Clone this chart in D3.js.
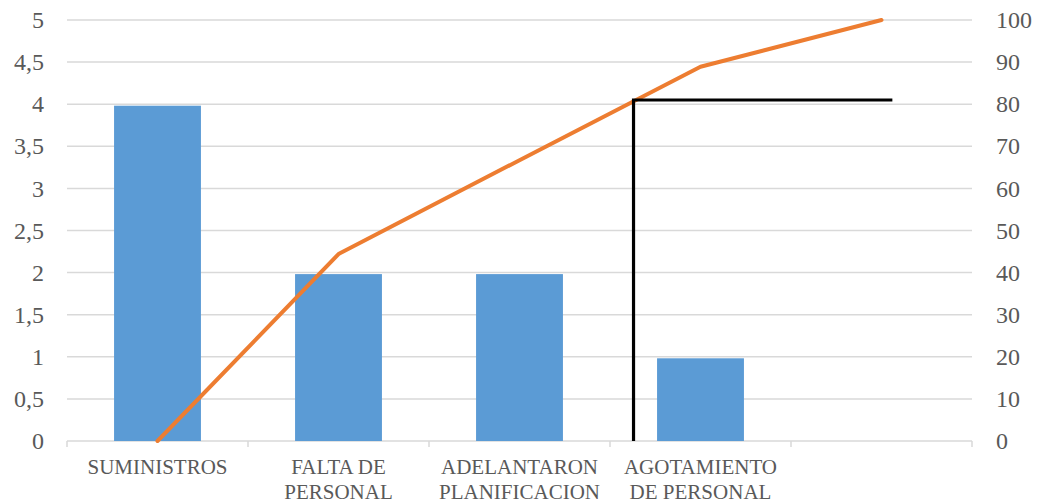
<!DOCTYPE html>
<html>
<head>
<meta charset="utf-8">
<script src="https://cdn.jsdelivr.net/npm/d3@7"></script>
<style>
  html, body { margin: 0; padding: 0; background: #fff; }
  svg { display: block; }
</style>
</head>
<body>
<svg id="chart" width="1039" height="503"></svg>
<script>
// Causes (last slot is left blank), frequencies, cumulative percentages
const categories = ["SUMINISTROS", "FALTA DE|PERSONAL", "ADELANTARON|PLANIFICACION", "AGOTAMIENTO|DE PERSONAL", ""];
const frequency = [4, 2, 2, 1, null];
const cumulativePct = [0, 44.4, 66.7, 88.9, 100];
const leftTicks = [0, 0.5, 1, 1.5, 2, 2.5, 3, 3.5, 4, 4.5, 5];
const rightTicks = [0, 10, 20, 30, 40, 50, 60, 70, 80, 90, 100];
// 80% cut-off marker, x in category-slot units
const cutoffLine = [[3.13, 0], [3.13, 81], [4.56, 81]];

const FONT = "Liberation Serif";
const TEXT_COLOR = "#595959";

const svg = d3.select("#chart");
const plotLeft = 67, plotRight = 972, plotTop = 20, plotBottom = 441;

const x = d3.scaleBand().domain(d3.range(categories.length)).range([plotLeft, plotRight]).paddingInner(0).paddingOuter(0);
const xSlot = d3.scaleLinear().domain([0, categories.length]).range([plotLeft, plotRight]);
const yL = d3.scaleLinear().domain([0, 5]).range([plotBottom, plotTop]);
const yR = d3.scaleLinear().domain([0, 100]).range([plotBottom, plotTop]);

// gridlines
svg.append("g").selectAll("line").data(leftTicks.slice(1)).join("line")
  .attr("x1", plotLeft).attr("x2", plotRight)
  .attr("y1", d => yL(d)).attr("y2", d => yL(d))
  .attr("stroke", "#d9d9d9").attr("stroke-width", 1.5);

// category axis baseline with tick marks
const axis = svg.append("g");
axis.append("line").attr("x1", plotLeft).attr("x2", plotRight).attr("y1", plotBottom).attr("y2", plotBottom)
  .attr("stroke", "#d9d9d9").attr("stroke-width", 1.5);
axis.selectAll("line.tick").data(d3.range(categories.length + 1)).join("line")
  .attr("class", "tick")
  .attr("x1", d => xSlot(d)).attr("x2", d => xSlot(d))
  .attr("y1", plotBottom).attr("y2", plotBottom + 6)
  .attr("stroke", "#d9d9d9").attr("stroke-width", 1.5);

// bars
const barW = x.bandwidth() * 0.48;
svg.append("g").selectAll("rect").data(frequency.map((v, i) => ({ v, i })).filter(d => d.v != null)).join("rect")
  .attr("x", d => x(d.i) + x.bandwidth() / 2 - barW / 2)
  .attr("width", barW)
  .attr("y", d => yL(d.v) + 1.5)
  .attr("height", d => yL(0) - yL(d.v) - 1.5)
  .attr("fill", "#5b9bd5");

// cumulative line
const line = d3.line().x((d, i) => x(i) + x.bandwidth() / 2).y(d => yR(d));
svg.append("path").datum(cumulativePct).attr("d", line)
  .attr("fill", "none").attr("stroke", "#ed7d31").attr("stroke-width", 4)
  .attr("stroke-linejoin", "round").attr("stroke-linecap", "round");

// 80% cut-off
svg.append("path").datum(cutoffLine)
  .attr("d", d3.line().x(d => xSlot(d[0])).y(d => yR(d[1])))
  .attr("fill", "none").attr("stroke", "#000").attr("stroke-width", 3.2);

// left axis labels
svg.append("g").selectAll("text").data(leftTicks).join("text")
  .attr("x", 44).attr("y", d => yL(d)).attr("dy", "0.34em")
  .attr("text-anchor", "end").attr("font-size", 24)
  .attr("font-family", FONT).attr("fill", TEXT_COLOR)
  .text(d => String(d).replace(".", ","));

// right axis labels
svg.append("g").selectAll("text").data(rightTicks).join("text")
  .attr("x", 996).attr("y", d => yR(d)).attr("dy", "0.34em")
  .attr("text-anchor", "start").attr("font-size", 24)
  .attr("font-family", FONT).attr("fill", TEXT_COLOR)
  .text(d => d);

// category labels
const cat = svg.append("g").selectAll("text").data(categories).join("text")
  .attr("x", (d, i) => x(i) + x.bandwidth() / 2)
  .attr("y", 474).attr("text-anchor", "middle").attr("font-size", 21)
  .attr("font-family", FONT).attr("fill", TEXT_COLOR);
cat.each(function (d) {
  const t = d3.select(this);
  d.split("|").forEach((part, k) => {
    t.append("tspan").attr("x", t.attr("x")).attr("dy", k === 0 ? 0 : 25).text(part);
  });
});
</script>
</body>
</html>
